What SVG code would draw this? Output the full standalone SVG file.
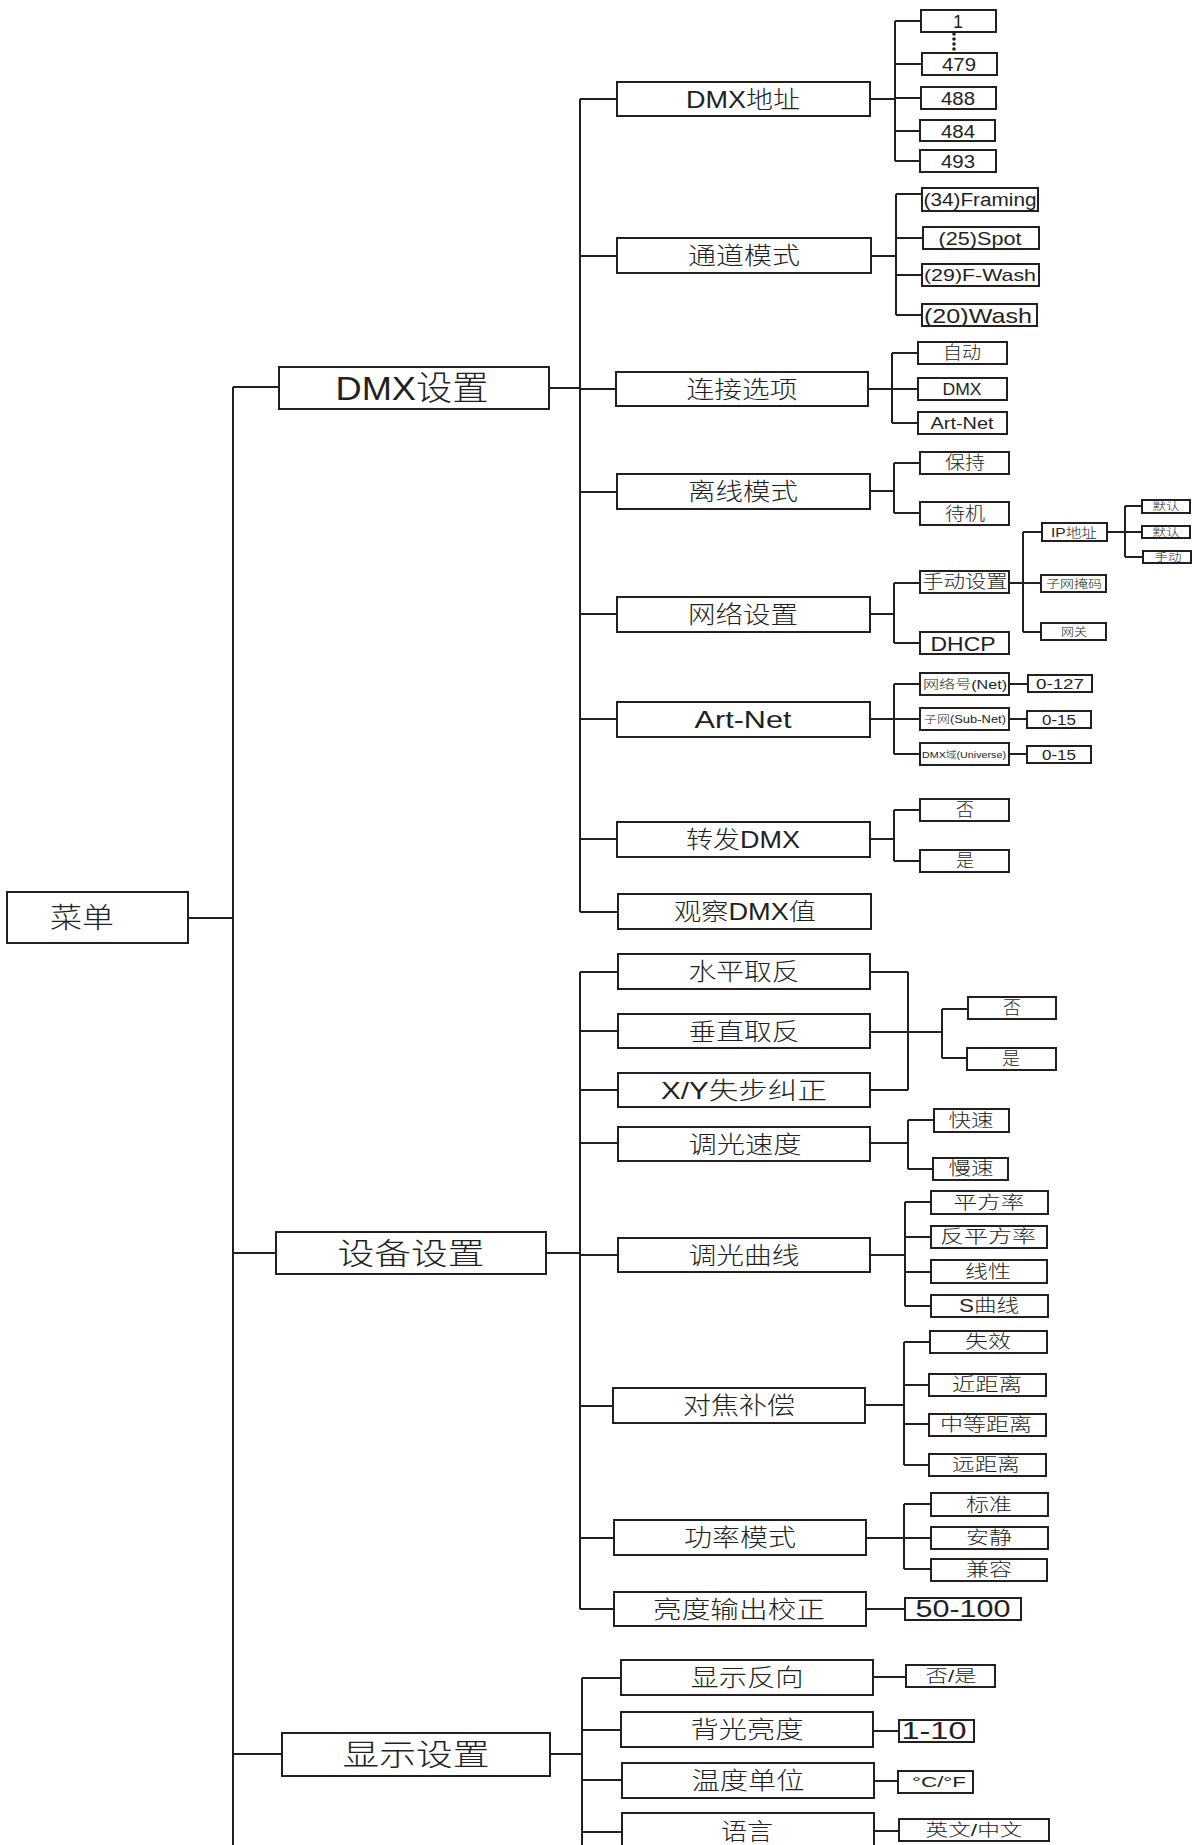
<svg xmlns="http://www.w3.org/2000/svg" width="1197" height="1845" viewBox="0 0 1197 1845">
<style>
.b{fill:#fff;stroke:#231f20;stroke-width:2}
.c{fill:none;stroke:#231f20;stroke-width:2}
text{font-family:"Liberation Sans","Noto Sans CJK SC",sans-serif;fill:#231f20;text-anchor:middle;font-weight:300}
.l2{font-size:24px}
.lf{font-size:18px}
</style>
<rect width="1197" height="1845" fill="#fff"/>
<g id="connectors">
<path class="c" d="M233 387V1845M188 918H233M233 387H279M233 1253H276M233 1754H282"/>
<path class="c" d="M549 388H580M580 99V912M580 99H617M580 256H617M580 389H616M580 492H617M580 614H617M580 719H617M580 839H617M580 912H618"/>
<path class="c" d="M870 99H895M895 21V161M895 21H921M895 64H921M895 98H921M895 131H921M895 161H921"/>
<path class="c" d="M870 256H896M896 194V315M896 194H922M896 238H922M896 275H922M896 315H922"/>
<path class="c" d="M868 389H892M892 353V423M892 353H918M892 389H918M892 423H918"/>
<path class="c" d="M870 491H894M894 463V513M894 463H920M894 513H920"/>
<path class="c" d="M870 614H894M894 583V643M894 583H920M894 643H920"/>
<path class="c" d="M1009 583H1023M1023 532V632M1023 532H1042M1023 583H1041M1023 632H1041"/>
<path class="c" d="M1107 532H1125M1125 506V557M1125 506H1142M1125 532H1142M1125 557H1143"/>
<path class="c" d="M870 719H894M894 684V754M894 684H920M894 719H920M894 754H920M1009 684H1028M1009 719H1028M1009 754H1028"/>
<path class="c" d="M870 839H894M894 810V861M894 810H920M894 861H920"/>
<path class="c" d="M546 1253H580M580 972V1609M580 972H618M580 1031H618M580 1090H618M580 1143H618M580 1255H618M580 1406H613M580 1538H614M580 1609H614"/>
<path class="c" d="M870 972H908M870 1090H908M908 972V1090M870 1032H942M942 1009V1058M942 1009H968M942 1058H967"/>
<path class="c" d="M870 1143H908M908 1120V1169M908 1120H934M908 1169H933"/>
<path class="c" d="M870 1255H905M905 1202V1306M905 1202H931M905 1237H931M905 1272H931M905 1306H931"/>
<path class="c" d="M865 1405H904M904 1342V1465M904 1342H930M904 1385H929M904 1424H929M904 1465H929"/>
<path class="c" d="M866 1538H904M904 1504V1569M904 1504H931M904 1538H931M904 1569H931"/>
<path class="c" d="M866 1609H905"/>
<path class="c" d="M550 1754H582M582 1678V1845M582 1678H621M582 1730H621M582 1780H622M582 1832H622"/>
<path class="c" d="M873 1677H906M873 1731H899M874 1781H898M874 1831H899"/>
</g>
<g id="menu"><rect class="b" x="7" y="892" width="181" height="51"/><text x="82" y="928" font-size="28" textLength="64" lengthAdjust="spacingAndGlyphs">菜单</text></g>
<g id="dmx-settings"><rect class="b" x="279" y="367" width="270" height="42"/><text x="412" y="400" font-size="34" textLength="153" lengthAdjust="spacingAndGlyphs">DMX设置</text></g>
<g id="device-settings"><rect class="b" x="276" y="1232" width="270" height="42"/><text x="411" y="1264" font-size="30" textLength="147" lengthAdjust="spacingAndGlyphs">设备设置</text></g>
<g id="display-settings"><rect class="b" x="282" y="1733" width="268" height="43"/><text x="416" y="1765" font-size="30" textLength="147" lengthAdjust="spacingAndGlyphs">显示设置</text></g>

<g id="dmx-address"><rect class="b" x="617" y="82" width="253" height="34"/><text class="l2" x="743" y="108" textLength="114" lengthAdjust="spacingAndGlyphs">DMX地址</text></g>
<g id="channel-mode"><rect class="b" x="617" y="238" width="254" height="35"/><text class="l2" x="744" y="264" textLength="112" lengthAdjust="spacingAndGlyphs">通道模式</text></g>
<g id="connection"><rect class="b" x="616" y="372" width="252" height="34"/><text class="l2" x="742" y="398" textLength="111" lengthAdjust="spacingAndGlyphs">连接选项</text></g>
<g id="offline-mode"><rect class="b" x="617" y="474" width="253" height="35"/><text class="l2" x="743" y="500" textLength="110" lengthAdjust="spacingAndGlyphs">离线模式</text></g>
<g id="network"><rect class="b" x="617" y="597" width="253" height="35"/><text class="l2" x="743" y="623" textLength="110" lengthAdjust="spacingAndGlyphs">网络设置</text></g>
<g id="artnet"><rect class="b" x="617" y="702" width="253" height="35"/><text class="l2" x="743" y="728" textLength="97" lengthAdjust="spacingAndGlyphs">Art-Net</text></g>
<g id="forward-dmx"><rect class="b" x="617" y="822" width="253" height="35"/><text class="l2" x="743" y="848" textLength="114" lengthAdjust="spacingAndGlyphs">转发DMX</text></g>
<g id="view-dmx"><rect class="b" x="618" y="894" width="253" height="35"/><text class="l2" x="745" y="920" textLength="142" lengthAdjust="spacingAndGlyphs">观察DMX值</text></g>

<g id="addr-1"><rect class="b" x="921" y="10" width="75" height="22"/><text class="lf" x="958" y="28">1</text></g>
<g id="addr-dots" fill="#231f20"><circle cx="954" cy="34" r="1.8"/><circle cx="954" cy="39" r="1.8"/><circle cx="954" cy="44" r="1.8"/><circle cx="954" cy="49" r="1.8"/></g>
<g id="addr-479"><rect class="b" x="922" y="53" width="75" height="22"/><text class="lf" x="959" y="71" textLength="34" lengthAdjust="spacingAndGlyphs">479</text></g>
<g id="addr-488"><rect class="b" x="921" y="87" width="75" height="22"/><text class="lf" x="958" y="105" textLength="34" lengthAdjust="spacingAndGlyphs">488</text></g>
<g id="addr-484"><rect class="b" x="920" y="120" width="75" height="21"/><text class="lf" x="958" y="138" textLength="34" lengthAdjust="spacingAndGlyphs">484</text></g>
<g id="addr-493"><rect class="b" x="920" y="150" width="76" height="22"/><text class="lf" x="958" y="168" textLength="34" lengthAdjust="spacingAndGlyphs">493</text></g>

<g id="mode-34"><rect class="b" x="922" y="188" width="116" height="23"/><text class="lf" x="980" y="206" textLength="113" lengthAdjust="spacingAndGlyphs">(34)Framing</text></g>
<g id="mode-25"><rect class="b" x="923" y="227" width="116" height="22"/><text class="lf" x="980" y="245" textLength="83" lengthAdjust="spacingAndGlyphs">(25)Spot</text></g>
<g id="mode-29"><rect class="b" x="922" y="264" width="117" height="22"/><text x="980" y="281" font-size="17" textLength="112" lengthAdjust="spacingAndGlyphs">(29)F-Wash</text></g>
<g id="mode-20"><rect class="b" x="922" y="304" width="115" height="22"/><text x="978" y="323" font-size="21" textLength="108" lengthAdjust="spacingAndGlyphs">(20)Wash</text></g>

<g id="conn-auto"><rect class="b" x="918" y="342" width="89" height="22"/><text class="lf" x="962" y="359" textLength="38" lengthAdjust="spacingAndGlyphs">自动</text></g>
<g id="conn-dmx"><rect class="b" x="918" y="378" width="89" height="22"/><text x="962" y="395" font-size="16" textLength="39" lengthAdjust="spacingAndGlyphs">DMX</text></g>
<g id="conn-artnet"><rect class="b" x="918" y="412" width="89" height="22"/><text x="962" y="429" font-size="16" textLength="63" lengthAdjust="spacingAndGlyphs">Art-Net</text></g>

<g id="off-hold"><rect class="b" x="920" y="452" width="89" height="22"/><text class="lf" x="965" y="469" textLength="40" lengthAdjust="spacingAndGlyphs">保持</text></g>
<g id="off-standby"><rect class="b" x="920" y="502" width="89" height="23"/><text class="lf" x="965" y="520" textLength="40" lengthAdjust="spacingAndGlyphs">待机</text></g>

<g id="net-manual"><rect class="b" x="920" y="571" width="89" height="22"/><text class="lf" x="965" y="588" textLength="85" lengthAdjust="spacingAndGlyphs">手动设置</text></g>
<g id="net-dhcp"><rect class="b" x="920" y="632" width="89" height="22"/><text x="963" y="651" font-size="21" textLength="65" lengthAdjust="spacingAndGlyphs">DHCP</text></g>
<g id="net-ip"><rect class="b" x="1042" y="523" width="65" height="18"/><text x="1074" y="537" font-size="13" textLength="46" lengthAdjust="spacingAndGlyphs">IP地址</text></g>
<g id="net-mask"><rect class="b" x="1041" y="575" width="65" height="17"/><text x="1074" y="588" font-size="11" textLength="56" lengthAdjust="spacingAndGlyphs">子网掩码</text></g>
<g id="net-gateway"><rect class="b" x="1041" y="623" width="65" height="17"/><text x="1074" y="636" font-size="11" textLength="26" lengthAdjust="spacingAndGlyphs">网关</text></g>
<g id="ip-default1"><rect class="b" x="1142" y="500" width="48" height="13"/><text x="1166" y="510" font-size="10" textLength="27" lengthAdjust="spacingAndGlyphs">默认</text></g>
<g id="ip-default2"><rect class="b" x="1142" y="526" width="48" height="12"/><text x="1166" y="536" font-size="10" textLength="27" lengthAdjust="spacingAndGlyphs">默认</text></g>
<g id="ip-manual"><rect class="b" x="1143" y="551" width="48" height="12"/><text x="1168" y="561" font-size="10" textLength="27" lengthAdjust="spacingAndGlyphs">手动</text></g>

<g id="an-net"><rect class="b" x="920" y="673" width="89" height="22"/><text x="965" y="689" font-size="12" textLength="84" lengthAdjust="spacingAndGlyphs">网络号(Net)</text></g>
<g id="an-subnet"><rect class="b" x="920" y="708" width="89" height="22"/><text x="965" y="723" font-size="10" textLength="82" lengthAdjust="spacingAndGlyphs">子网(Sub-Net)</text></g>
<g id="an-universe"><rect class="b" x="920" y="743" width="89" height="22"/><text x="964" y="758" font-size="9" textLength="84" lengthAdjust="spacingAndGlyphs">DMX域(Universe)</text></g>
<g id="an-net-val"><rect class="b" x="1028" y="675" width="64" height="17"/><text x="1060" y="689" font-size="15" textLength="48" lengthAdjust="spacingAndGlyphs">0-127</text></g>
<g id="an-subnet-val"><rect class="b" x="1027" y="711" width="64" height="17"/><text x="1059" y="725" font-size="15" textLength="34" lengthAdjust="spacingAndGlyphs">0-15</text></g>
<g id="an-universe-val"><rect class="b" x="1027" y="746" width="64" height="17"/><text x="1059" y="760" font-size="15" textLength="34" lengthAdjust="spacingAndGlyphs">0-15</text></g>

<g id="fwd-no"><rect class="b" x="920" y="799" width="89" height="22"/><text class="lf" x="965" y="816">否</text></g>
<g id="fwd-yes"><rect class="b" x="920" y="850" width="89" height="22"/><text class="lf" x="965" y="867">是</text></g>

<g id="pan-invert"><rect class="b" x="618" y="954" width="252" height="35"/><text class="l2" x="744" y="980" textLength="111" lengthAdjust="spacingAndGlyphs">水平取反</text></g>
<g id="tilt-invert"><rect class="b" x="618" y="1014" width="252" height="34"/><text class="l2" x="744" y="1040" textLength="111" lengthAdjust="spacingAndGlyphs">垂直取反</text></g>
<g id="xy-correct"><rect class="b" x="618" y="1073" width="252" height="34"/><text class="l2" x="744" y="1099" textLength="166" lengthAdjust="spacingAndGlyphs">X/Y失步纠正</text></g>
<g id="dim-speed"><rect class="b" x="618" y="1127" width="252" height="34"/><text class="l2" x="745" y="1153" textLength="113" lengthAdjust="spacingAndGlyphs">调光速度</text></g>
<g id="dim-curve"><rect class="b" x="618" y="1238" width="252" height="34"/><text class="l2" x="744" y="1264" textLength="111" lengthAdjust="spacingAndGlyphs">调光曲线</text></g>
<g id="focus-comp"><rect class="b" x="613" y="1388" width="252" height="35"/><text class="l2" x="739" y="1414" textLength="112" lengthAdjust="spacingAndGlyphs">对焦补偿</text></g>
<g id="power-mode"><rect class="b" x="614" y="1520" width="252" height="35"/><text class="l2" x="740" y="1546" textLength="112" lengthAdjust="spacingAndGlyphs">功率模式</text></g>
<g id="bright-cal"><rect class="b" x="614" y="1592" width="252" height="34"/><text class="l2" x="739" y="1618" textLength="172" lengthAdjust="spacingAndGlyphs">亮度输出校正</text></g>

<g id="inv-no"><rect class="b" x="968" y="997" width="88" height="22"/><text class="lf" x="1012" y="1014">否</text></g>
<g id="inv-yes"><rect class="b" x="967" y="1048" width="89" height="22"/><text class="lf" x="1011" y="1065">是</text></g>
<g id="speed-fast"><rect class="b" x="934" y="1109" width="75" height="23"/><text class="lf" x="971" y="1127" textLength="45" lengthAdjust="spacingAndGlyphs">快速</text></g>
<g id="speed-slow"><rect class="b" x="933" y="1158" width="75" height="22"/><text class="lf" x="971" y="1175" textLength="45" lengthAdjust="spacingAndGlyphs">慢速</text></g>
<g id="curve-sq"><rect class="b" x="931" y="1191" width="117" height="23"/><text class="lf" x="989" y="1209" textLength="71" lengthAdjust="spacingAndGlyphs">平方率</text></g>
<g id="curve-isq"><rect class="b" x="931" y="1226" width="116" height="22"/><text class="lf" x="988" y="1243" textLength="96" lengthAdjust="spacingAndGlyphs">反平方率</text></g>
<g id="curve-lin"><rect class="b" x="931" y="1260" width="116" height="23"/><text class="lf" x="988" y="1278" textLength="46" lengthAdjust="spacingAndGlyphs">线性</text></g>
<g id="curve-s"><rect class="b" x="931" y="1295" width="117" height="22"/><text class="lf" x="989" y="1312" textLength="60" lengthAdjust="spacingAndGlyphs">S曲线</text></g>
<g id="focus-off"><rect class="b" x="930" y="1331" width="117" height="22"/><text class="lf" x="988" y="1348" textLength="46" lengthAdjust="spacingAndGlyphs">失效</text></g>
<g id="focus-near"><rect class="b" x="929" y="1374" width="117" height="22"/><text class="lf" x="987" y="1391" textLength="70" lengthAdjust="spacingAndGlyphs">近距离</text></g>
<g id="focus-mid"><rect class="b" x="929" y="1414" width="117" height="22"/><text class="lf" x="986" y="1431" textLength="92" lengthAdjust="spacingAndGlyphs">中等距离</text></g>
<g id="focus-far"><rect class="b" x="929" y="1454" width="117" height="22"/><text class="lf" x="986" y="1471" textLength="68" lengthAdjust="spacingAndGlyphs">远距离</text></g>
<g id="power-std"><rect class="b" x="931" y="1493" width="117" height="23"/><text class="lf" x="989" y="1511" textLength="46" lengthAdjust="spacingAndGlyphs">标准</text></g>
<g id="power-quiet"><rect class="b" x="931" y="1527" width="117" height="22"/><text class="lf" x="989" y="1544" textLength="46" lengthAdjust="spacingAndGlyphs">安静</text></g>
<g id="power-compat"><rect class="b" x="931" y="1559" width="116" height="22"/><text class="lf" x="989" y="1576" textLength="46" lengthAdjust="spacingAndGlyphs">兼容</text></g>
<g id="bright-range"><rect class="b" x="905" y="1598" width="116" height="22"/><text x="963" y="1617" font-size="24" textLength="95" lengthAdjust="spacingAndGlyphs">50-100</text></g>

<g id="disp-invert"><rect class="b" x="621" y="1660" width="252" height="35"/><text class="l2" x="747" y="1686" textLength="113" lengthAdjust="spacingAndGlyphs">显示反向</text></g>
<g id="backlight"><rect class="b" x="621" y="1712" width="252" height="35"/><text class="l2" x="747" y="1738" textLength="113" lengthAdjust="spacingAndGlyphs">背光亮度</text></g>
<g id="temp-unit"><rect class="b" x="622" y="1763" width="252" height="35"/><text class="l2" x="748" y="1789" textLength="113" lengthAdjust="spacingAndGlyphs">温度单位</text></g>
<g id="language"><rect class="b" x="622" y="1813" width="252" height="40"/><text class="l2" x="747" y="1840" textLength="52" lengthAdjust="spacingAndGlyphs">语言</text></g>
<g id="disp-inv-val"><rect class="b" x="906" y="1665" width="89" height="22"/><text x="951" y="1682" font-size="17" textLength="51" lengthAdjust="spacingAndGlyphs">否/是</text></g>
<g id="backlight-val"><rect class="b" x="899" y="1720" width="75" height="22"/><text x="934" y="1739" font-size="24" textLength="65" lengthAdjust="spacingAndGlyphs">1-10</text></g>
<g id="temp-val"><rect class="b" x="898" y="1771" width="75" height="22"/><text x="939" y="1787" font-size="14" textLength="54" lengthAdjust="spacingAndGlyphs">°C/°F</text></g>
<g id="lang-val"><rect class="b" x="899" y="1819" width="150" height="22"/><text x="974" y="1836" font-size="17" textLength="97" lengthAdjust="spacingAndGlyphs">英文/中文</text></g>
</svg>
